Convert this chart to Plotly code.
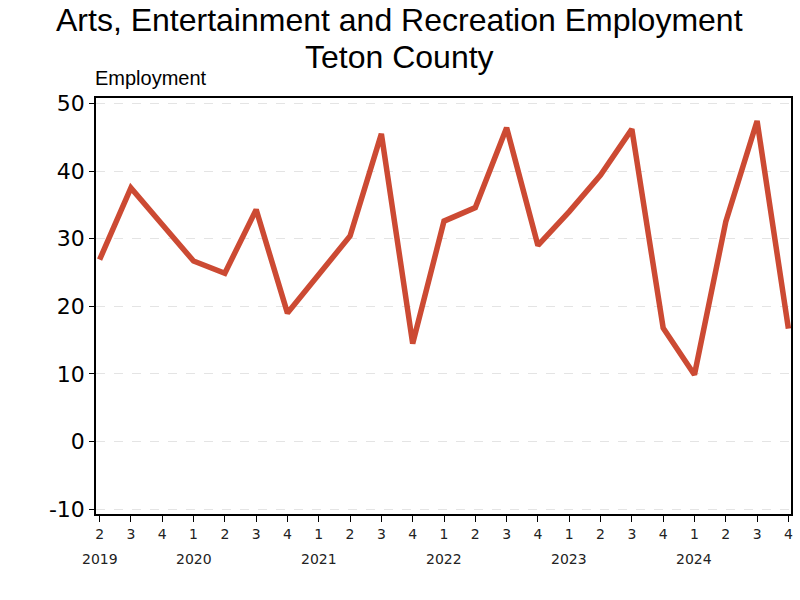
import plotly.graph_objects as go

years = [2019, 2019, 2019,
         2020, 2020, 2020, 2020,
         2021, 2021, 2021, 2021,
         2022, 2022, 2022, 2022,
         2023, 2023, 2023, 2023,
         2024, 2024, 2024, 2024]
quarters = [2, 3, 4,
            1, 2, 3, 4,
            1, 2, 3, 4,
            1, 2, 3, 4,
            1, 2, 3, 4,
            1, 2, 3, 4]
employment = [26.9, 37.5, 32.1,
              26.7, 24.9, 34.3, 19.0,
              24.7, 30.4, 45.5, 14.5,
              32.6, 34.6, 46.4, 29.0,
              34.0, 39.4, 46.2, 16.8,
              9.9, 32.5, 47.4, 16.7]
y_ticks = [-10, 0, 10, 20, 30, 40, 50]
title_lines = ["Arts, Entertainment and Recreation Employment", "Teton County"]

x_idx = list(range(len(employment)))
line_color = "rgb(204,74,51)"

fig = go.Figure()
fig.add_trace(go.Scatter(
    x=x_idx, y=employment, mode="lines",
    line=dict(color=line_color, width=5.5),
    hoverinfo="skip", showlegend=False,
))

annotations = []
seen = set()
for i, yr in enumerate(years):
    if yr not in seen:
        seen.add(yr)
        annotations.append(dict(
            x=i, xref="x", y=0, yref="paper", yshift=-45,
            text=str(yr), showarrow=False, xanchor="center", yanchor="middle",
            font=dict(family="DejaVu Sans", size=14, color="#222"),
        ))

annotations.append(dict(
    x=0, xref="paper", y=1, yref="paper", yshift=7, xshift=-3,
    text="Employment", showarrow=False, xanchor="left", yanchor="bottom",
    font=dict(family="Liberation Sans", size=20, color="#000"),
))

plot_left, plot_right = 96, 793
title_x = (400 - plot_left) / (plot_right - plot_left)
for txt, shift in zip(title_lines, [78, 41]):
    annotations.append(dict(
        x=title_x, xref="paper", y=1, yref="paper", yshift=shift,
        text=txt, showarrow=False, xanchor="center", yanchor="middle",
        font=dict(family="Liberation Sans", size=32, color="#000"),
    ))

fig.update_layout(
    width=800, height=600,
    margin=dict(l=plot_left, r=800 - plot_right, t=98, b=86),
    paper_bgcolor="white", plot_bgcolor="white",
    annotations=annotations,
    xaxis=dict(
        range=[-0.115, 22.083],
        tickmode="array", tickvals=x_idx, ticktext=[str(q) for q in quarters],
        ticks="outside", ticklen=6, tickcolor="#000", tickwidth=1,
        showline=True, linecolor="#000", linewidth=1.5, mirror=True,
        showgrid=False, zeroline=False,
        tickfont=dict(family="DejaVu Sans", size=14, color="#222"),
    ),
    yaxis=dict(
        range=[-10.7, 50.8],
        tickmode="array", tickvals=y_ticks, ticktext=[str(v) for v in y_ticks],
        ticks="outside", ticklen=5, tickcolor="#000", tickwidth=1,
        showline=True, linecolor="#000", linewidth=1.5, mirror=True,
        showgrid=True, gridcolor="#e4e4e4", griddash="dash", gridwidth=1,
        zeroline=False,
        tickfont=dict(family="DejaVu Sans", size=22, color="#000"),
    ),
)

fig.write_html("out.html")
